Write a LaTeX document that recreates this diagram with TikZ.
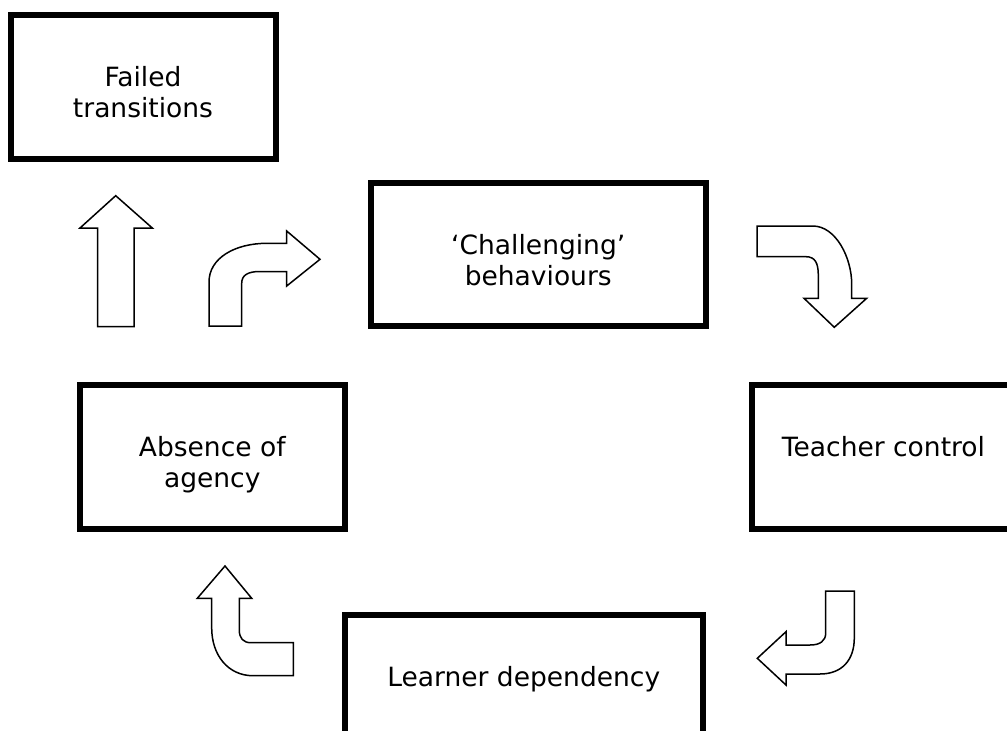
\documentclass[tikz,border=0pt]{standalone}
\usepackage{fontspec}
\setmainfont{DejaVu Sans}
\begin{document}
\begin{tikzpicture}[x=1pt,y=-1pt,
  every node/.style={font=\fontsize{26.5}{31}\selectfont},
  cyclebox/.style={draw,line width=6pt,align=center,text height=62pt,text depth=0pt},
  oneline/.style={text height=20pt,text depth=20pt},
  blockarrow/.style={draw,fill=white,line width=1.5pt,line join=miter}]
\useasboundingbox (0,0) rectangle (1007,731);
\clip (0,0) rectangle (1007,731);

% the stages of the cycle
\node[cyclebox,minimum width=265pt,minimum height=144pt] (failed) at (143,86.5) {Failed\\transitions};
\node[cyclebox,minimum width=335.5pt,minimum height=143pt] (challenging) at (538.25,254.5) {‘Challenging’\\behaviours};
\node[cyclebox,oneline,minimum width=263pt,minimum height=144pt] (teacher) at (883.5,456.5) {Teacher control};
\node[cyclebox,minimum width=264.5pt,minimum height=144pt] (absence) at (212.25,456.5) {Absence of\\agency};
\node[cyclebox,oneline,minimum width=358.5pt,minimum height=144pt] (learner) at (523.75,686.5) {Learner dependency};

% block arrows between the stages
%straight one up to failed transitions:
\draw[blockarrow] (97.7,326.7) -- (97.7,228) -- (80,228) -- (115.7,195.7)
  -- (152.3,228) -- (134,228) -- (134,326.7) -- cycle;
%bent one into challenging behaviours:
\draw[blockarrow] (209,326) -- (209,282) .. controls (209,258) and (235,243.3) .. (267,243.3)
  -- (286.7,243.3) -- (286.7,231) -- (320,259.3) -- (286.7,286) -- (286.7,271.5)
  -- (260,271.5) .. controls (248,271.5) and (241.7,275) .. (241.7,283.3) -- (241.7,326) -- cycle;
%bent one down to teacher control:
\draw[blockarrow] (757,226) -- (812.7,226) .. controls (836,226) and (851.7,258) .. (851.7,284)
  -- (851.7,298.3) -- (866.7,298.3) -- (834.3,327.3) -- (804,298.3) -- (818.3,298.3)
  -- (818.3,275) .. controls (818.3,263) and (815,256.7) .. (806,256.7) -- (757,256.7) -- cycle;
%bent one into learner dependency:
\draw[blockarrow] (825.7,591) -- (854.3,591) -- (854.3,638) .. controls (854.3,660) and (842,674) .. (820,674)
  -- (786,674) -- (786,685) -- (757.3,658.3) -- (786,631.7) -- (786,645)
  -- (810,645) .. controls (820,645) and (825.7,641) .. (825.7,633) -- cycle;
%bent one up to absence of agency:
\draw[blockarrow] (225,566) -- (251.7,598.3) -- (239.3,598.3) -- (239.3,630)
  .. controls (239.3,638) and (243,642.7) .. (251,642.7) -- (293.3,642.7) -- (293.3,675.7)
  -- (253,675.7) .. controls (228,675.7) and (211.7,655) .. (211.7,628) -- (211.7,598.3)
  -- (197.3,598.3) -- cycle;
\end{tikzpicture}
\end{document}
